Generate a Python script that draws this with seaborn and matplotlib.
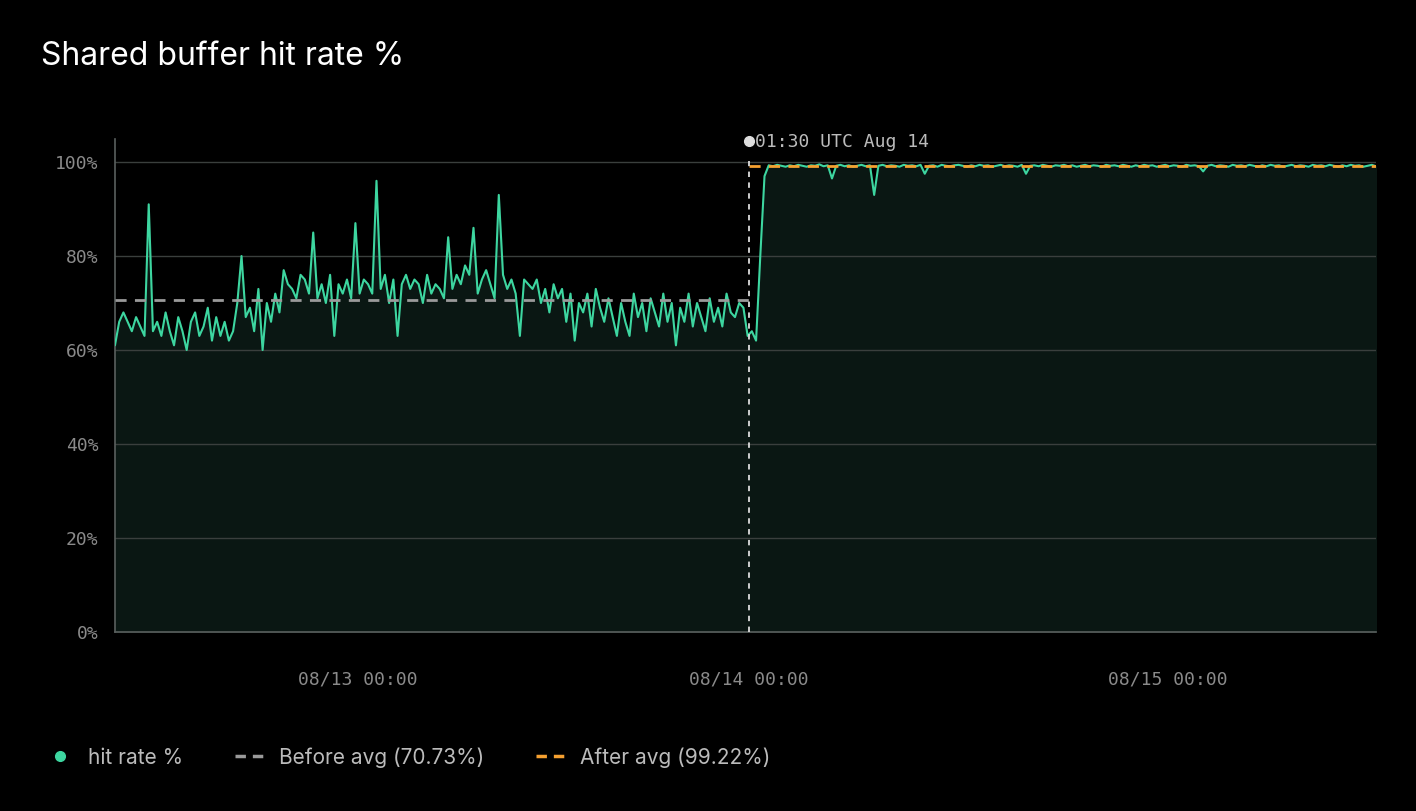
import numpy as np
import pandas as pd
import matplotlib
matplotlib.use("Agg")
import matplotlib.pyplot as plt
import seaborn as sns
from matplotlib.lines import Line2D

before_vals = [61,66,68,66,64,67,65,63,91,64,
 66,63,68,64,61,67,64,60,66,68,
 63,65,69,62,67,63,66,62,64,70,
 80,67,69,64,73,60,70,66,72,68,
 77,74,73,71,76,75,72,85,71,74,
 70,76,63,74,72,75,71,87,72,75,
 74,72,96,73,76,70,75,63,74,76,
 73,75,74,70,76,72,74,73,71,84,
 73,76,74,78,76,86,72,75,77,74,
 71,93,76,73,75,72,63,75,74,73,
 75,70,73,68,74,71,73,66,72,62,
 70,68,72,65,73,69,66,71,67,63,
 70,66,63,72,67,70,64,71,68,65,
 72,66,70,61,69,66,72,65,70,67,
 64,71,66,69,65,72,68,67,70,69]
after_vals = [63,64,62,80,97,99.3,99.1,99.4,99.2,99.0,
 99.3,99.1,99.4,99.2,99.0,99.3,99.2,99.5,99.1,99.3,
 96.5,99.2,99.4,99.1,99.3,99.0,99.2,99.4,99.1,99.3,
 93.0,99.2,99.4,99.1,99.3,99.2,99.0,99.4,99.2,99.3,
 99.1,99.4,97.5,99.2,99.3,99.0,99.4,99.2,99.1,99.3,
 99.4,99.2,99.0,99.3,99.1,99.4,99.2,99.3,99.0,99.2,
 99.4,99.1,99.3,99.2,99.0,99.4,97.5,99.2,99.3,99.1,
 99.4,99.2,99.0,99.3,99.2,99.4,99.1,99.3,99.0,99.2,
 99.4,99.1,99.3,99.2,99.0,99.4,99.2,99.3,99.1,99.4,
 99.2,99.0,99.3,99.1,99.4,99.2,99.3,99.0,99.2,99.4,
 99.1,99.3,99.2,99.0,99.4,99.2,99.3,99.1,98.0,99.2,
 99.4,99.1,99.3,99.2,99.0,99.4,99.2,99.3,99.1,99.4,
 99.2,99.0,99.3,99.1,99.4,99.2,99.3,99.0,99.2,99.4,
 99.1,99.3,99.2,99.0,99.4,99.2,99.3,99.1,99.4,99.2,
 99.0,99.3,99.1,99.4,99.2,99.3,99.0,99.2,99.4,99.1]
before_avg = 70.73
after_avg = 99.22
event_hour = 37.56
event_label = "01:30 UTC Aug 14"
tick_hours = [14.4, 37.56, 62.4]
tick_labels = ["08/13 00:00", "08/14 00:00", "08/15 00:00"]
step = 0.25

vals = before_vals + after_vals
df = pd.DataFrame({"hour": np.arange(len(vals)) * step, "rate": vals})

sns.set_theme(style="dark")
plt.rcParams["font.family"] = ["Inter", "DejaVu Sans"]
fig = plt.figure(figsize=(14.16, 8.11), dpi=100, facecolor="black")
ax = fig.add_axes([0.0812, 0.2207, 0.8906, 0.6085])
ax.set_facecolor("black")
green = "#3dd6a0"
ax.fill_between(df["hour"], 0, df["rate"], color="#0a1713", zorder=1)
sns.lineplot(data=df, x="hour", y="rate", ax=ax, color=green, lw=1.5, zorder=3)
xmax = df["hour"].iloc[-1]
ax.plot([0, event_hour], [before_avg]*2, ls=(0, (4, 3)), color="#9a9a9a", lw=2, zorder=4)
ax.plot([event_hour, xmax], [after_avg]*2, ls=(0, (4, 3)), color="#f5a030", lw=2, zorder=4)
ax.set_xlim(0, xmax)
ax.set_ylim(0, 105)
ax.set_yticks(range(0, 101, 20))
ax.set_yticklabels([f"{v}%" for v in range(0, 101, 20)])
ax.set_xticks(tick_hours)
ax.set_xticklabels(tick_labels)
for v in range(20, 101, 20):
    ax.axhline(v, color="#3a3f3d", lw=1, zorder=2)
ax.grid(False)
for s in ["top", "right"]:
    ax.spines[s].set_visible(False)
for s in ["left", "bottom"]:
    ax.spines[s].set_color("#5a605e")
    ax.spines[s].set_linewidth(1.2)
ax.tick_params(colors="#8a8a8a", length=0, pad=12, labelsize=13)
for t in ax.get_xticklabels() + ax.get_yticklabels():
    t.set_fontfamily("DejaVu Sans Mono")
ax.tick_params(axis="x", pad=28)
ax.set_xlabel(""); ax.set_ylabel("")
ax.axvline(event_hour, ymax=0.955, color="#dddddd", ls=(0, (3, 3)), lw=1.3, zorder=5)
ax.plot([event_hour], [104.5], "o", color="#dddddd", ms=7, clip_on=False, zorder=6)
ax.text(event_hour + 0.4, 104.3, event_label, color="#bbbbbb", fontsize=13,
        family="DejaVu Sans Mono", va="center", ha="left")
fig.text(0.029, 0.93, "Shared buffer hit rate %", color="white", fontsize=23, va="center")
handles = [Line2D([], [], marker="o", ls="none", color=green, ms=7),
           Line2D([], [], ls=(0, (3, 2)), color="#9a9a9a", lw=2.5),
           Line2D([], [], ls=(0, (3, 2)), color="#f5a030", lw=2.5)]
leg = fig.legend(handles, ["hit rate %", f"Before avg ({before_avg:.2f}%)", f"After avg ({after_avg:.2f}%)"],
                 loc="center left", bbox_to_anchor=(0.018, 0.066), ncol=3, frameon=False,
                 fontsize=15, handlelength=1.5, columnspacing=2.5, handletextpad=0.6)
for t in leg.get_texts():
    t.set_color("#bbbbbb")
fig.savefig("out.png", dpi=100, facecolor="black")
